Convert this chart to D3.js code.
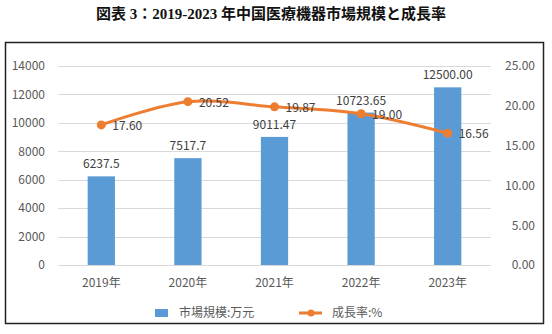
<!DOCTYPE html>
<html>
<head>
<meta charset="utf-8">
<script src="https://cdn.jsdelivr.net/npm/d3@7/dist/d3.min.js"></script>
<style>
  html, body { margin: 0; padding: 0; background: #fff; }
  svg { display: block; }
</style>
</head>
<body>
<svg id="chart" width="552" height="334"></svg>
<script>
// Chart data
const years = ["2019年", "2020年", "2021年", "2022年", "2023年"];
const marketSize = [6237.5, 7517.7, 9011.47, 10723.65, 12500.00];
const marketLabels = ["6237.5", "7517.7", "9011.47", "10723.65", "12500.00"];
const growthRate = [17.60, 20.52, 19.87, 19.00, 16.56];
const leftTicks = [0, 2000, 4000, 6000, 8000, 10000, 12000, 14000];
const rightTicks = [0, 5, 10, 15, 20, 25];
const seriesNames = ["市場規模:万元", "成長率:%"];
const titleText = "図表 3：2019-2023 年中国医療機器市場規模と成長率";

const W = 552, H = 334;
const plot = { left: 58, right: 491, top: 66, bottom: 265 };
const font = "'Noto Sans CJK JP', 'Noto Sans', sans-serif";
const textColor = "#595959";
const barColor = "#5B9BD5";
const lineColor = "#ED7D31";

const svg = d3.select("#chart");

// Title
svg.append("text")
  .attr("x", 271).attr("y", 19)
  .attr("text-anchor", "middle")
  .attr("font-family", "'Liberation Serif', 'Noto Sans CJK JP', serif")
  .attr("font-weight", "bold")
  .attr("font-size", 15)
  .attr("fill", "#111")
  .text(titleText);

// Chart frame
svg.append("rect")
  .attr("x", 5.5).attr("y", 42.5)
  .attr("width", 538).attr("height", 281)
  .attr("fill", "none")
  .attr("stroke", "#222").attr("stroke-width", 1.5);

const x = d3.scaleBand().domain(years).range([plot.left, plot.right]).paddingInner(0.685).paddingOuter(0.3425);
const yL = d3.scaleLinear().domain([0, 14000]).range([plot.bottom, plot.top]);
const yR = d3.scaleLinear().domain([0, 25]).range([plot.bottom, plot.top]);
const cx = d => x(d) + x.bandwidth() / 2;

// Gridlines
svg.append("g").selectAll("line").data(leftTicks).join("line")
  .attr("x1", plot.left).attr("x2", plot.right)
  .attr("y1", d => Math.round(yL(d)) + 0.5).attr("y2", d => Math.round(yL(d)) + 0.5)
  .attr("stroke", "#D9D9D9").attr("stroke-width", 1);

// Left axis
const axL = svg.append("g")
  .attr("transform", `translate(${plot.left - 13},0)`)
  .call(d3.axisLeft(yL).tickValues(leftTicks).tickSize(0).tickPadding(0).tickFormat(d3.format("d")));
axL.select(".domain").remove();
axL.selectAll("text").attr("font-family", font).attr("font-size", 12).attr("fill", textColor);

// Right axis
const axR = svg.append("g")
  .attr("transform", `translate(535,0)`)
  .call(d3.axisLeft(yR).tickValues(rightTicks).tickSize(0).tickPadding(0).tickFormat(d3.format(".2f")));
axR.select(".domain").remove();
axR.selectAll("text").attr("font-family", font).attr("font-size", 12).attr("fill", textColor);

// Category axis
const axX = svg.append("g")
  .attr("transform", `translate(0,${plot.bottom + 11})`)
  .call(d3.axisBottom(x).tickSize(0).tickPadding(0));
axX.select(".domain").remove();
axX.selectAll("text").attr("font-family", font).attr("font-size", 12).attr("fill", textColor).attr("dy", "0.9em");

// Bars
svg.append("g").selectAll("rect").data(marketSize).join("rect")
  .attr("x", (d, i) => x(years[i]))
  .attr("width", x.bandwidth())
  .attr("y", d => yL(d))
  .attr("height", d => plot.bottom - yL(d))
  .attr("fill", barColor);

// Bar value labels
svg.append("g").selectAll("text").data(marketSize).join("text")
  .attr("x", (d, i) => cx(years[i]))
  .attr("y", d => yL(d) - 8)
  .attr("text-anchor", "middle")
  .attr("font-family", font).attr("font-size", 12).attr("fill", "#404040")
  .text((d, i) => marketLabels[i]);

// Growth-rate line (smoothed)
const line = d3.line()
  .x((d, i) => cx(years[i]))
  .y(d => yR(d))
  .curve(d3.curveCatmullRom.alpha(0.5));

svg.append("path")
  .datum(growthRate)
  .attr("d", line)
  .attr("fill", "none")
  .attr("stroke", lineColor)
  .attr("stroke-width", 3)
  .attr("stroke-linecap", "round");

svg.append("g").selectAll("circle").data(growthRate).join("circle")
  .attr("cx", (d, i) => cx(years[i]))
  .attr("cy", d => yR(d))
  .attr("r", 4.5)
  .attr("fill", lineColor);

// Growth-rate labels
svg.append("g").selectAll("text").data(growthRate).join("text")
  .attr("x", (d, i) => cx(years[i]) + 11)
  .attr("y", d => yR(d) + 1)
  .attr("dy", "0.35em")
  .attr("font-family", font).attr("font-size", 12).attr("fill", "#404040")
  .text(d => d3.format(".2f")(d));

// Legend
const lg = svg.append("g");
lg.append("rect").attr("x", 155).attr("y", 309).attr("width", 13).attr("height", 8).attr("fill", barColor);
lg.append("text").attr("x", 179).attr("y", 313).attr("dy", "0.35em")
  .attr("font-family", font).attr("font-size", 12).attr("fill", textColor).text(seriesNames[0]);
lg.append("line").attr("x1", 299).attr("x2", 322).attr("y1", 313).attr("y2", 313)
  .attr("stroke", lineColor).attr("stroke-width", 3);
lg.append("circle").attr("cx", 311).attr("cy", 313).attr("r", 3.5).attr("fill", lineColor);
lg.append("text").attr("x", 332).attr("y", 313).attr("dy", "0.35em")
  .attr("font-family", font).attr("font-size", 12).attr("fill", textColor).text(seriesNames[1]);
</script>
</body>
</html>
